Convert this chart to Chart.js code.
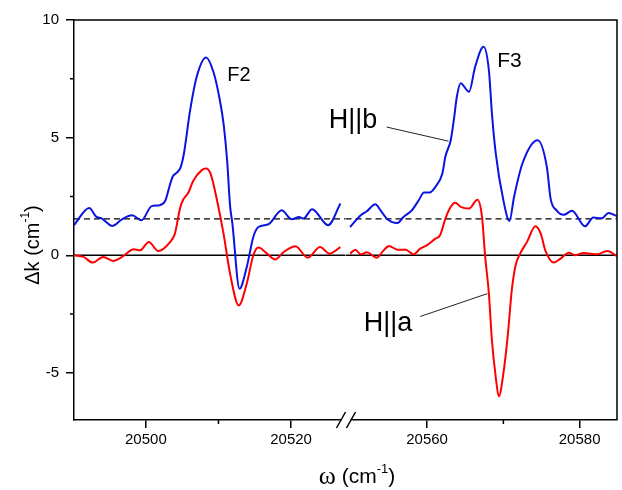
<!DOCTYPE html>
<html>
<head>
<meta charset="utf-8">
<title>Δk vs ω</title>
<script src="https://cdn.jsdelivr.net/npm/chart.js@4.4.1/dist/chart.umd.min.js"></script>
<style>
  html, body { margin: 0; padding: 0; background: #fff; }
  canvas { display: block; }
</style>
</head>
<body>
<canvas id="chart" width="622" height="490"></canvas>
<script>
// values: ω (cm-1) and Δk (cm-1)
const blueLeftX = [20490.1, 20492.2, 20493.2, 20493.9, 20495.4, 20496.7, 20498.1, 20499.4, 20500.8, 20501.9, 20502.7, 20503.3, 20503.7, 20504.3, 20504.8, 20505.2, 20506.1, 20507.0, 20508.3, 20509.3, 20510.1, 20510.7, 20511.2, 20511.6, 20511.9, 20512.9, 20513.9, 20514.8, 20515.5, 20516.9, 20518.7, 20520.1, 20521.1, 20521.7, 20522.9, 20525.1, 20526.8];
const blueLeftY = [1.28, 2.01, 1.63, 1.57, 1.25, 1.53, 1.70, 1.49, 2.09, 2.13, 2.34, 2.98, 3.35, 3.52, 3.75, 4.25, 6.17, 7.59, 8.41, 7.80, 6.74, 5.60, 4.00, 2.10, 1.40, -1.42, -0.50, 0.78, 1.20, 1.32, 1.91, 1.53, 1.63, 1.56, 1.96, 1.28, 2.20];

const redLeftX = [20490.1, 20491.4, 20492.7, 20494.1, 20495.5, 20496.9, 20498.3, 20499.2, 20500.4, 20501.7, 20503.3, 20504.0, 20504.7, 20505.1, 20505.9, 20506.5, 20507.7, 20508.3, 20508.9, 20509.8, 20510.7, 20511.6, 20512.8, 20513.9, 20514.8, 20515.5, 20516.7, 20517.8, 20519.0, 20520.6, 20522.3, 20524.0, 20525.3, 20526.8];
const redLeftY = [0.0, -0.07, -0.31, -0.07, -0.24, -0.03, 0.26, 0.21, 0.57, 0.18, 0.55, 0.92, 1.99, 2.34, 2.69, 3.15, 3.62, 3.69, 3.48, 2.34, 0.92, -0.78, -2.13, -1.20, 0.0, 0.33, 0.07, -0.18, 0.14, 0.38, -0.10, 0.35, 0.07, 0.35];

const blueRightX = [20549.9, 20551.3, 20552.1, 20553.2, 20553.9, 20554.8, 20556.1, 20556.9, 20558.0, 20558.9, 20559.6, 20560.3, 20561.1, 20562.0, 20562.4, 20563.1, 20563.5, 20563.9, 20564.4, 20565.5, 20566.3, 20567.4, 20568.1, 20568.5, 20569.0, 20570.0, 20570.8, 20571.4, 20572.5, 20574.5, 20575.7, 20576.2, 20577.0, 20577.9, 20579.0, 20580.7, 20581.8, 20582.9, 20583.8, 20584.9];
const blueRightY = [1.20, 1.70, 1.87, 2.17, 1.91, 1.53, 1.37, 1.63, 1.91, 2.34, 2.67, 2.67, 2.91, 3.48, 4.20, 4.89, 5.74, 6.74, 7.31, 6.95, 8.01, 8.86, 7.87, 6.03, 4.33, 2.34, 1.46, 2.48, 3.90, 4.89, 3.76, 2.40, 1.90, 1.72, 1.89, 1.23, 1.61, 1.57, 1.80, 1.66];

const redRightX = [20549.9, 20550.6, 20551.3, 20552.1, 20553.4, 20554.3, 20555.0, 20556.1, 20557.2, 20558.2, 20559.1, 20560.0, 20561.1, 20561.7, 20562.4, 20563.1, 20563.7, 20564.4, 20565.5, 20566.6, 20567.2, 20567.6, 20568.1, 20568.5, 20569.0, 20569.4, 20570.0, 20570.6, 20571.1, 20571.6, 20572.2, 20573.1, 20574.2, 20574.9, 20575.5, 20576.6, 20577.5, 20578.6, 20579.4, 20580.5, 20582.3, 20583.6, 20584.9];
const redRightY = [0.07, 0.24, 0.04, 0.13, -0.10, 0.21, 0.40, 0.24, 0.24, 0.04, 0.28, 0.43, 0.71, 0.85, 1.56, 2.06, 2.23, 2.06, 1.99, 2.36, 1.63, 0.0, -1.63, -3.62, -5.18, -6.0, -5.03, -3.33, -1.49, -0.43, 0.07, 0.57, 1.23, 0.92, 0.21, -0.31, -0.14, 0.11, 0.0, 0.10, 0.04, 0.18, -0.04];

const zeroLevel = 0;
const dashedLevel = 1.55;

// broken ω axis: two ranges side by side
const xLeftRange = [20490.1, 20527.5];
const xRightRange = [20549.3, 20584.9];
const yRange = [-7, 10];

const xLeftTicks = [20500, 20520];
const xRightTicks = [20560, 20580];
const xLeftMinor = [20510];
const xRightMinor = [20570];
const yTicks = [-5, 0, 5, 10];
const yMinor = [-2.5, 2.5, 7.5];

const labels = [
  { text: "F2", axis: "xLeft", x: 20511.2, y: 7.66, size: 20 },
  { text: "F3", axis: "xRight", x: 20569.2, y: 8.26, size: 21 },
  { text: "H||b", axis: "xRight", x: 20547.1, y: 5.74, size: 27 },
  { text: "H||a", axis: "xRight", x: 20551.7, y: -2.91, size: 27 }
];
const leaders = [
  { axis: "xRight", from: [20554.7, 5.45], to: [20562.8, 4.85] },
  { axis: "xRight", from: [20559.1, -2.6], to: [20567.9, -1.63] }
];

const BLUE = "#0a14e0";
const RED = "#ff0000";
const SANS = "'Liberation Sans', Arial, sans-serif";
const SERIF = "'Liberation Serif', 'Times New Roman', serif";

Chart.defaults.font.family = SANS;
Chart.defaults.color = "#000";

const toPoints = (xs, ys) => xs.map((x, i) => ({ x, y: ys[i] }));

const curve = (label, xs, ys, color, xAxisID) => ({
  label,
  data: toPoints(xs, ys),
  xAxisID,
  yAxisID: "y",
  borderColor: color,
  borderWidth: 2,
  pointRadius: 0,
  cubicInterpolationMode: "monotone",
  fill: false
});

const refLine = (level, range, xAxisID, dash) => ({
  label: "ref",
  data: [{ x: range[0], y: level }, { x: range[1], y: level }],
  xAxisID,
  yAxisID: "y",
  borderColor: "#000",
  borderWidth: dash ? 1.2 : 1.5,
  borderDash: dash || [],
  pointRadius: 0,
  fill: false
});

const xScale = (range, majors) => ({
  type: "linear",
  position: "bottom",
  stack: "omega",
  stackWeight: 1,
  min: range[0],
  max: range[1],
  afterBuildTicks: (s) => { s.ticks = majors.map((v) => ({ value: v })); },
  afterFit: (s) => { s.height = 70; },
  border: { color: "#000", width: 1.5 },
  grid: { drawOnChartArea: false, tickLength: 8, color: "#000", lineWidth: 1.5 },
  ticks: { padding: 3, maxRotation: 0, autoSkip: false, font: { size: 15 }, callback: (v) => String(v) }
});

// draws the box, minor ticks, axis break, labels and axis titles
const decorations = {
  id: "decorations",
  afterDraw(chart) {
    const { ctx, chartArea: a, scales } = chart;
    const y = scales.y;
    const xl = scales.xLeft;
    const xr = scales.xRight;
    ctx.save();

    ctx.strokeStyle = "#000";
    ctx.lineWidth = 1.5;
    ctx.beginPath();
    ctx.moveTo(a.left, a.top);
    ctx.lineTo(a.right, a.top);
    ctx.lineTo(a.right, a.bottom);
    ctx.stroke();

    ctx.beginPath();
    yMinor.forEach((v) => {
      const py = y.getPixelForValue(v);
      ctx.moveTo(a.left, py);
      ctx.lineTo(a.left - 4, py);
    });
    xLeftMinor.forEach((v) => {
      const px = xl.getPixelForValue(v);
      ctx.moveTo(px, a.bottom);
      ctx.lineTo(px, a.bottom + 4);
    });
    xRightMinor.forEach((v) => {
      const px = xr.getPixelForValue(v);
      ctx.moveTo(px, a.bottom);
      ctx.lineTo(px, a.bottom + 4);
    });
    ctx.stroke();

    // axis break "//"
    const bx = xl.right;
    ctx.fillStyle = "#fff";
    ctx.fillRect(bx - 4, a.bottom - 2, 9, 4);
    ctx.lineWidth = 1.5;
    ctx.beginPath();
    [-4.5, 5.5].forEach((dx) => {
      ctx.moveTo(bx + dx - 4.5, a.bottom + 8);
      ctx.lineTo(bx + dx + 4.5, a.bottom - 8);
    });
    ctx.stroke();

    ctx.lineWidth = 1;
    ctx.strokeStyle = "#222";
    ctx.beginPath();
    leaders.forEach((l) => {
      const sx = scales[l.axis];
      ctx.moveTo(sx.getPixelForValue(l.from[0]), y.getPixelForValue(l.from[1]));
      ctx.lineTo(sx.getPixelForValue(l.to[0]), y.getPixelForValue(l.to[1]));
    });
    ctx.stroke();

    ctx.fillStyle = "#000";
    ctx.textAlign = "left";
    ctx.textBaseline = "middle";
    labels.forEach((l) => {
      ctx.font = `${l.size}px ${SANS}`;
      ctx.fillText(l.text, scales[l.axis].getPixelForValue(l.x), y.getPixelForValue(l.y));
    });

    // x title: ω (cm-1)
    const parts = [
      { t: "ω", f: `26px ${SERIF}`, dy: 0 },
      { t: " (cm", f: `21px ${SANS}`, dy: 0 },
      { t: "-1", f: `13px ${SANS}`, dy: -8 },
      { t: ")", f: `21px ${SANS}`, dy: 0 }
    ];
    drawParts(ctx, parts, 357, 477);

    // y title: Δk (cm-1), rotated
    ctx.save();
    ctx.translate(33, 245);
    ctx.rotate(-Math.PI / 2);
    drawParts(ctx, [
      { t: "Δk (cm", f: `20px ${SANS}`, dy: 0 },
      { t: "-1", f: `12px ${SANS}`, dy: -7 },
      { t: ")", f: `20px ${SANS}`, dy: 0 }
    ], 0, 0);
    ctx.restore();

    ctx.restore();
  }
};

function drawParts(ctx, parts, cx, cy) {
  let total = 0;
  parts.forEach((p) => { ctx.font = p.f; total += ctx.measureText(p.t).width; });
  let x = cx - total / 2;
  ctx.textAlign = "left";
  ctx.textBaseline = "middle";
  parts.forEach((p) => {
    ctx.font = p.f;
    ctx.fillText(p.t, x, cy + p.dy);
    x += ctx.measureText(p.t).width;
  });
}

new Chart(document.getElementById("chart").getContext("2d"), {
  type: "line",
  data: {
    datasets: [
      curve("H||b", blueLeftX, blueLeftY, BLUE, "xLeft"),
      curve("H||b", blueRightX, blueRightY, BLUE, "xRight"),
      curve("H||a", redLeftX, redLeftY, RED, "xLeft"),
      curve("H||a", redRightX, redRightY, RED, "xRight"),
      refLine(zeroLevel, xLeftRange, "xLeft"),
      refLine(zeroLevel, xRightRange, "xRight"),
      refLine(dashedLevel, xLeftRange, "xLeft", [6, 4]),
      refLine(dashedLevel, xRightRange, "xRight", [6, 4])
    ]
  },
  options: {
    responsive: false,
    animation: false,
    devicePixelRatio: 1,
    events: [],
    layout: { padding: { top: 20, right: 5, left: 0, bottom: 0 } },
    plugins: { legend: { display: false }, tooltip: { enabled: false } },
    scales: {
      xLeft: xScale(xLeftRange, xLeftTicks),
      xRight: xScale(xRightRange, xRightTicks),
      y: {
        type: "linear",
        position: "left",
        min: yRange[0],
        max: yRange[1],
        afterBuildTicks: (s) => { s.ticks = yTicks.map((v) => ({ value: v })); },
        afterFit: (s) => { s.width = 74; },
        border: { color: "#000", width: 1.5 },
        grid: { drawOnChartArea: false, tickLength: 8, color: "#000", lineWidth: 1.5 },
        ticks: { padding: 7, font: { size: 15 }, callback: (v) => String(v) }
      }
    }
  },
  plugins: [decorations]
});
</script>
</body>
</html>
